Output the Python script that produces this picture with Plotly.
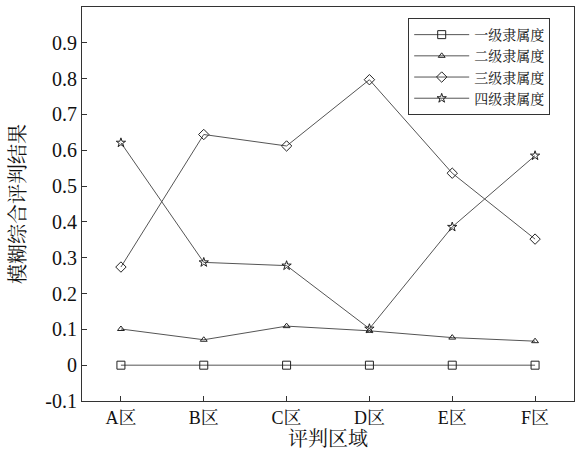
import plotly.graph_objects as go

categories = ["A区", "B区", "C区", "D区", "E区", "F区"]
x_pos = [1, 2, 3, 4, 5, 6]
series_names = ["一级隶属度", "二级隶属度", "三级隶属度", "四级隶属度"]
level1 = [0.0, 0.0, 0.0, 0.0, 0.0, 0.0]
level2 = [0.101, 0.071, 0.109, 0.096, 0.077, 0.067]
level3 = [0.274, 0.644, 0.612, 0.797, 0.536, 0.352]
level4 = [0.621, 0.287, 0.278, 0.102, 0.386, 0.585]
y_ticks = [-0.1, 0, 0.1, 0.2, 0.3, 0.4, 0.5, 0.6, 0.7, 0.8, 0.9]
y_tick_text = ["-0.1", "0", "0.1", "0.2", "0.3", "0.4", "0.5", "0.6", "0.7", "0.8", "0.9"]

FONT = "Liberation Serif, Times New Roman, Noto Serif CJK SC, Noto Sans CJK SC, serif"
LINE = "#333333"

symbols = ["square-open", "triangle-up-open", "diamond-open", "star-open"]
sizes = [8, 6, 8, 7]
data = [level1, level2, level3, level4]

fig = go.Figure()
for name, vals, sym, sz in zip(series_names, data, symbols, sizes):
    fig.add_trace(go.Scatter(
        x=x_pos, y=vals, name=name, mode="lines+markers",
        line=dict(color="#555555", width=1),
        marker=dict(symbol=sym, size=sz, color="#222222", line=dict(width=1, color="#222222")),
    ))

fig.update_layout(
    width=577, height=456,
    margin=dict(l=82, r=3, t=7, b=55),
    paper_bgcolor="white", plot_bgcolor="white",
    font=dict(family=FONT, color="#111111", size=17),
    showlegend=True,
    legend=dict(
        x=0.663, y=0.972, xanchor="left", yanchor="top",
        bgcolor="white", bordercolor="#333333", borderwidth=1,
        font=dict(size=14, family=FONT),
        tracegroupgap=0, itemwidth=55,
    ),
    xaxis=dict(
        range=[0.53, 6.47], tickvals=x_pos, ticktext=categories,
        showgrid=False, zeroline=False, showline=True, linecolor=LINE, linewidth=1,
        mirror=True, ticks="inside", ticklen=5, tickcolor=LINE,
        tickfont=dict(size=18), automargin=False,
        title=dict(text="评判区域", font=dict(size=20), standoff=4),
    ),
    yaxis=dict(
        range=[-0.1, 1.0], tickvals=y_ticks, ticktext=y_tick_text,
        showgrid=False, zeroline=False, showline=True, linecolor=LINE, linewidth=1,
        mirror=True, ticks="inside", ticklen=5, tickcolor=LINE,
        tickfont=dict(size=20), automargin=False,
        title=dict(text="模糊综合评判结果", font=dict(size=20), standoff=14),
    ),
)

post = "document.body.style.margin='0';document.body.style.padding='0';document.body.style.overflow='hidden';"
fig.write_html("out.html", post_script=post, config={"displayModeBar": False})
